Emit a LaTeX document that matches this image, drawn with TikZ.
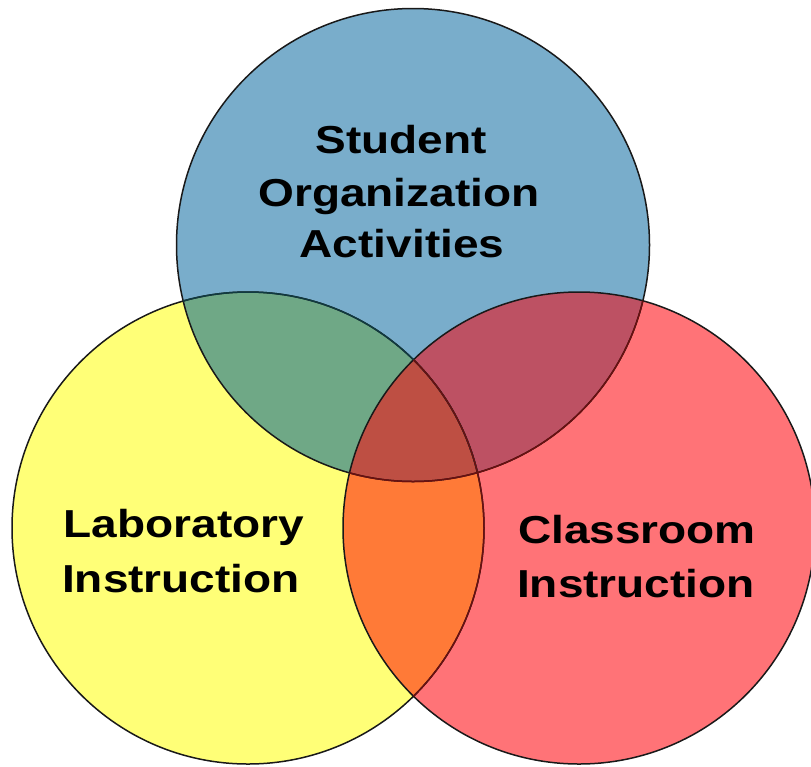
\documentclass[tikz,border=0pt]{standalone}
\usepackage{fontspec}
\newfontfamily\lblfont{Liberation Sans Bold}[FakeStretch=1.18]
\definecolor{cblue}{HTML}{79ADCB}
\definecolor{cyellow}{HTML}{FFFF77}
\definecolor{cred}{HTML}{FF7377}
\definecolor{cgreen}{HTML}{6FA886}
\definecolor{cpurple}{HTML}{BD5163}
\definecolor{corange}{HTML}{FF7A37}
\definecolor{ccenter}{HTML}{BE4F43}
\definecolor{lred}{HTML}{6A1010}
\definecolor{lteal}{HTML}{103A40}
\tikzset{
  outl/.style={line width=1.5pt, draw=black!90},
  lbl/.style={anchor=base, inner sep=0pt, font=\lblfont\fontsize{39}{47}\selectfont, text=black}
}
\begin{document}
\begin{tikzpicture}[x=1pt,y=-1pt]
\useasboundingbox[fill=white] (0,0) rectangle (811,766);
\coordinate (B) at (413,245);
\coordinate (Y) at (248,528);
\coordinate (R) at (579,528);
% base fills
\fill[cblue] (B) circle[radius=236.5pt];
\fill[cyellow] (Y) circle[radius=236pt];
\fill[cred] (R) circle[radius=236pt];
% yellow-red overlap
\begin{scope}
  \clip (Y) circle[radius=236pt];
  \fill[corange] (R) circle[radius=236pt];
\end{scope}
% overlaps with blue
\begin{scope}
  \clip (B) circle[radius=236.5pt];
  \fill[cgreen] (Y) circle[radius=236pt];
  \fill[cpurple] (R) circle[radius=236pt];
  \clip (Y) circle[radius=236pt];
  \fill[ccenter] (R) circle[radius=236pt];
\end{scope}
% outlines
\draw[outl] (Y) circle[radius=236pt];
\draw[outl] (B) circle[radius=236.5pt];
\draw[outl] (R) circle[radius=236pt];
\begin{scope}
  \clip (B) circle[radius=236.5pt];
  \draw[outl, draw=lteal] (Y) circle[radius=236pt];
\end{scope}
\begin{scope}
  \clip (R) circle[radius=236pt];
  \draw[outl, draw=lred] (Y) circle[radius=236pt];
  \draw[outl, draw=lred] (B) circle[radius=236.5pt];
\end{scope}
% labels
\node[lbl] (s1) at (401,153) {Student};
\node[lbl] (s2) at (399,206) {Organization};
\node[lbl] (s3) at (402,257) {Activities};
\node[lbl] (l1) at (184,537) {Laboratory};
\node[lbl] (l2) at (181,592) {Instruction};
\node[lbl] (c1) at (637,543) {Classroom};
\node[lbl] (c2) at (636,597) {Instruction};
\end{tikzpicture}
\end{document}
